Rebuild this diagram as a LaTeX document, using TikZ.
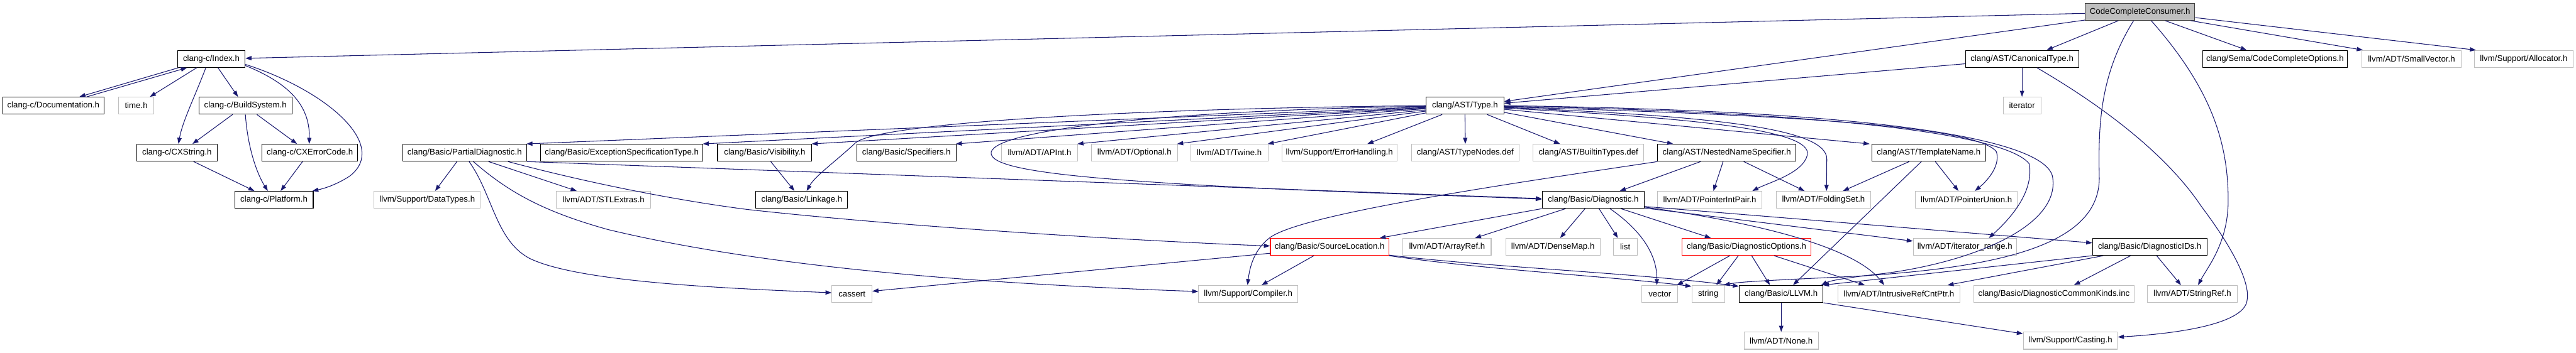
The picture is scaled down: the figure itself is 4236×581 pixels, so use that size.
\documentclass[tikz,border=0pt]{standalone}
\usepackage{fontspec}
\setmainfont{Liberation Sans}
\usetikzlibrary{arrows.meta}
\definecolor{edgec}{HTML}{191970}
\definecolor{extc}{HTML}{BFBFBF}
\definecolor{rootc}{HTML}{BFBFBF}
\newcommand\labfont{\fontsize{13.7pt}{16pt}\selectfont}
\begin{document}
\begin{tikzpicture}[x=1pt,y=-1pt,
  box/.style={rectangle, draw, line width=1.1pt, minimum height=28pt, inner sep=0pt, font=\labfont},
  doc/.style={box, draw=black},
  ext/.style={box, draw=extc},
  trunc/.style={box, draw=red},
  root/.style={box, draw=black!75, fill=rootc},
  e/.style={draw=edgec, line width=1.1pt, -{Triangle[length=10pt,width=7pt]}}]
\useasboundingbox (0,0) rectangle (4236,581);
% row 0
\node[root,minimum width=180pt] (CCC) at (3519,19.5) {CodeCompleteConsumer.h};
% row 1
\node[doc,minimum width=111pt] (Index) at (347.5,97) {clang-c/Index.h};
\node[doc,minimum width=186pt] (Canon) at (3325,97) {clang/AST/CanonicalType.h};
\node[doc,minimum width=238pt] (CCOpts) at (3741,97) {clang/Sema/CodeCompleteOptions.h};
\node[ext,minimum width=163pt] (SmallVec) at (3965.5,97) {llvm/ADT/SmallVector.h};
\node[ext,minimum width=162pt] (Alloc) at (4150,97) {llvm/Support/Allocator.h};
% row 2
\node[doc,minimum width=166.5pt] (Doc) at (87.75,174) {clang-c/Documentation.h};
\node[ext,minimum width=58pt] (time) at (224,174) {time.h};
\node[doc,minimum width=153pt] (Build) at (403.5,174) {clang-c/BuildSystem.h};
\node[doc,minimum width=128pt] (Type) at (2409,174) {clang/AST/Type.h};
\node[ext,minimum width=62pt] (iter) at (3325,174) {iterator};
% row 3
\node[doc,minimum width=132pt] (CXStr) at (291,251.5) {clang-c/CXString.h};
\node[doc,minimum width=157pt] (CXErr) at (509.5,251.5) {clang-c/CXErrorCode.h};
\node[doc,minimum width=204pt] (PDiag) at (764,251.5) {clang/Basic/PartialDiagnostic.h};
\node[doc,minimum width=267pt] (Exc) at (1022.5,251.5) {clang/Basic/ExceptionSpecificationType.h};
\node[doc,minimum width=155pt] (Vis) at (1257.5,251.5) {clang/Basic/Visibility.h};
\node[doc,minimum width=163pt] (Spec) at (1490.5,251.5) {clang/Basic/Specifiers.h};
\node[ext,minimum width=125pt] (APInt) at (1709.5,251.5) {llvm/ADT/APInt.h};
\node[ext,minimum width=141pt] (Opt) at (1865.5,251.5) {llvm/ADT/Optional.h};
\node[ext,minimum width=127pt] (Twine) at (2021.5,251.5) {llvm/ADT/Twine.h};
\node[ext,minimum width=189pt] (ErrH) at (2202.5,251.5) {llvm/Support/ErrorHandling.h};
\node[ext,minimum width=177pt] (TNodes) at (2409.5,251.5) {clang/AST/TypeNodes.def};
\node[ext,minimum width=182pt] (BTypes) at (2612,251.5) {clang/AST/BuiltinTypes.def};
\node[doc,minimum width=227pt] (NNS) at (2839.5,251.5) {clang/AST/NestedNameSpecifier.h};
\node[doc,minimum width=187pt] (TName) at (3171.5,251.5) {clang/AST/TemplateName.h};
% row 4
\node[doc,minimum width=129pt] (Plat) at (450.5,329) {clang-c/Platform.h};
\node[ext,minimum width=175pt] (DTypes) at (702.5,329) {llvm/Support/DataTypes.h};
\node[ext,minimum width=155pt] (STL) at (992.5,329) {llvm/ADT/STLExtras.h};
\node[doc,minimum width=151pt] (Link) at (1318.5,329) {clang/Basic/Linkage.h};
\node[doc,minimum width=168pt] (Diag) at (2620,329) {clang/Basic/Diagnostic.h};
\node[ext,minimum width=171pt] (PIP) at (2811.5,329) {llvm/ADT/PointerIntPair.h};
\node[ext,minimum width=155pt] (Fold) at (2998.5,329) {llvm/ADT/FoldingSet.h};
\node[ext,minimum width=167pt] (PUnion) at (3233.5,329) {llvm/ADT/PointerUnion.h};
% row 5
\node[trunc,minimum width=195pt] (SLoc) at (2186.5,406.5) {clang/Basic/SourceLocation.h};
\node[ext,minimum width=145pt] (ARef) at (2379.5,406.5) {llvm/ADT/ArrayRef.h};
\node[ext,minimum width=155pt] (DMap) at (2553.5,406.5) {llvm/ADT/DenseMap.h};
\node[ext,minimum width=39pt] (list) at (2672.5,406.5) {list};
\node[trunc,minimum width=212pt] (DOpts) at (2872,406.5) {clang/Basic/DiagnosticOptions.h};
\node[ext,minimum width=170pt] (IRange) at (3231,406.5) {llvm/ADT/iterator\_range.h};
\node[doc,minimum width=188pt] (DIDs) at (3535,406.5) {clang/Basic/DiagnosticIDs.h};
% row 6
\node[ext,minimum width=66pt] (cassert) at (1401,484) {cassert};
\node[ext,minimum width=163pt] (Comp) at (2052.5,484) {llvm/Support/Compiler.h};
\node[ext,minimum width=59pt] (vector) at (2729.5,484) {vector};
\node[ext,minimum width=54pt] (string) at (2809,484) {string};
\node[doc,minimum width=138pt] (LLVM) at (2929,484) {clang/Basic/LLVM.h};
\node[ext,minimum width=201pt] (IRC) at (3122.5,484) {llvm/ADT/IntrusiveRefCntPtr.h};
\node[ext,minimum width=263pt] (DCK) at (3377.5,484) {clang/Basic/DiagnosticCommonKinds.inc};
\node[ext,minimum width=148pt] (SRef) at (3605,484) {llvm/ADT/StringRef.h};
% row 7
\node[ext,minimum width=122pt] (None) at (2929,561) {llvm/ADT/None.h};
\node[ext,minimum width=155pt] (Cast) at (3404.5,561) {llvm/Support/Casting.h};

% ---- edges from root
\draw[e] ([yshift=-2.5pt]CCC.west) -- ([yshift=1pt]Index.east);
\draw[e] ([yshift=1pt]CCC.south west) -- ([yshift=7pt]Type.east);
\draw[e] ([yshift=-8pt]Canon.west) -- ([yshift=4pt]Type.east);
\draw[e] ([xshift=55pt]CCC.south west) -- ([xshift=134pt]Canon.north west);
\draw[e] ([xshift=132pt]CCC.south west) -- ([xshift=73pt]CCOpts.north west);
\draw[e] ([xshift=174pt]CCC.south west) -- ([xshift=2pt]SmallVec.north west);
\draw[e] ([yshift=-9.5pt]CCC.east) -- ([xshift=3pt]Alloc.north west);
\draw[e] ([xshift=109pt]CCC.south west) .. controls (3640,150) and (3664,240) .. (3664,330) .. controls (3664,400) and (3630,440) .. ([xshift=84pt]SRef.north west);
\draw[e] ([xshift=80pt]CCC.south west) .. controls (3455,120) and (3450,200) .. (3452,290) .. controls (3455,400) and (3300,440) .. (3050,455) .. controls (2900,462) and (2860,464) .. ([xshift=-2pt]string.north east);
\draw[e] ([xshift=118pt]Canon.south west) .. controls (3450,170) and (3560,250) .. (3620,340) .. controls (3680,420) and (3700,470) .. (3695,495) .. controls (3690,530) and (3600,548) .. ([yshift=6pt]Cast.east);
\draw[e] (Canon.south) -- (iter.north);

% ---- Index
\draw[e] ([xshift=2pt]Index.south west) -- ([xshift=126.5pt]Doc.north west);
\draw[e] ([xshift=138.5pt]Doc.north west) -- ([xshift=16pt]Index.south west);
\draw[e] ([xshift=32pt]Index.south west) -- ([xshift=52pt]time.north west);
\draw[e] ([xshift=47pt]Index.south west) .. controls (320,160) and (300,200) .. ([xshift=69pt]CXStr.north west);
\draw[e] ([xshift=67pt]Index.south west) -- ([xshift=65pt]Build.north west);
\draw[e] ([yshift=-11pt]Index.east) .. controls (470,135) and (510,170) .. ([xshift=78pt]CXErr.north west);
\draw[e] ([yshift=-9pt]Index.east) .. controls (540,150) and (640,240) .. (575,290) .. controls (555,303) and (535,310) .. ([xshift=-2pt]Plat.north east);
\draw[e] ([xshift=56pt]Build.south west) -- ([xshift=92pt]CXStr.north west);
\draw[e] ([xshift=96pt]Build.south west) -- ([xshift=58pt]CXErr.north west);
\draw[e] ([xshift=77pt]Build.south west) .. controls (408,250) and (425,290) .. ([xshift=55pt]Plat.north west);
\draw[e] ([xshift=94pt]CXStr.south west) -- ([xshift=33pt]Plat.north west);
\draw[e] ([xshift=67pt]CXErr.south west) -- ([xshift=76pt]Plat.north west);

% ---- Type, left side
\draw[e] ([yshift=-2pt]Type.west) -- ([xshift=-1pt]PDiag.north east);
\draw[e] ([yshift=-3pt]Type.west) -- ([xshift=-1pt]Exc.north east);
\draw[e] ([yshift=-4pt]Type.west) -- ([xshift=-1pt]Vis.north east);
\draw[e] ([yshift=-5pt]Type.west) -- ([xshift=-1pt]Spec.north east);
\draw[e] ([yshift=-7pt]Type.west) -- ([xshift=-1pt]APInt.north east);
\draw[e] ([yshift=-9pt]Type.west) -- ([xshift=-1pt]Opt.north east);
\draw[e] ([yshift=-12pt]Type.west) -- ([xshift=-1pt]Twine.north east);
\draw[e] ([yshift=0pt]Type.west) .. controls (1900,178) and (1450,200) .. (1407,235) .. controls (1375,265) and (1340,290) .. ([xshift=84pt]Link.north west);
\draw[e] ([yshift=-1pt]Type.west) .. controls (1900,182) and (1640,215) .. (1630,250) .. controls (1625,272) and (1700,287) .. (1898,300) .. controls (2100,314) and (2400,322) .. ([yshift=1pt]Diag.west);
\draw[e] ([xshift=88pt]Vis.south west) -- ([xshift=64pt]Link.north west);
% ---- Type, below and right
\draw[e] ([xshift=27pt]Type.south west) -- ([xshift=141pt]ErrH.north west);
\draw[e] (Type.south) -- (TNodes.north);
\draw[e] ([xshift=101pt]Type.south west) -- ([xshift=45pt]BTypes.north west);
\draw[e] ([yshift=-11pt]Type.east) -- ([xshift=26pt]NNS.north west);
\draw[e] ([yshift=-6pt]Type.east) -- ([xshift=-3pt]TName.north west);
\draw[e] ([yshift=-4pt]Type.east) .. controls (2800,195) and (2980,215) .. (2972,255) .. controls (2965,285) and (2910,300) .. ([xshift=156pt]PIP.north west);
\draw[e] ([yshift=-3pt]Type.east) .. controls (2850,192) and (3004,215) .. (3004,262) -- ([xshift=83pt]Fold.north west);
\draw[e] ([yshift=-2pt]Type.east) .. controls (2900,188) and (3250,205) .. (3283,250) .. controls (3290,275) and (3265,300) .. ([xshift=98pt]PUnion.north west);
\draw[e] ([yshift=-1pt]Type.east) .. controls (3000,184) and (3300,220) .. (3337,270) .. controls (3345,320) and (3300,365) .. ([xshift=125pt]IRange.north west);
\draw[e] ([yshift=0pt]Type.east) .. controls (3100,182) and (3360,230) .. (3375,290) .. controls (3390,370) and (3250,430) .. (3100,450) .. controls (3030,458) and (3010,462) .. ([xshift=-4pt]LLVM.north east);
% ---- TemplateName
\draw[e] ([xshift=62pt]TName.south west) -- ([xshift=110pt]Fold.north west);
\draw[e] ([xshift=82pt]TName.south west) -- ([xshift=89pt]LLVM.north west);
\draw[e] ([xshift=105pt]TName.south west) -- ([xshift=71pt]PUnion.north west);
% ---- PartialDiagnostic
\draw[e] ([xshift=90pt]PDiag.south west) -- ([xshift=101pt]DTypes.north west);
\draw[e] ([xshift=110pt]PDiag.south west) .. controls (810,320) and (815,395) .. (870,425) .. controls (950,465) and (1200,475) .. ([yshift=2pt]cassert.west);
\draw[e] ([xshift=117pt]PDiag.south west) .. controls (840,320) and (900,350) .. (1000,378) .. controls (1300,450) and (1700,470) .. ([yshift=4pt]Comp.west);
\draw[e] ([xshift=142pt]PDiag.south west) -- ([xshift=34pt]STL.north west);
\draw[e] ([xshift=174pt]PDiag.south west) .. controls (1000,310) and (1150,335) .. (1230,345) .. controls (1500,375) and (1900,398) .. ([yshift=1.5pt]SLoc.west);
\draw[e] (PDiag.south east) -- ([yshift=2pt]Diag.west);
% ---- NestedNameSpecifier
\draw[e] (NNS.south west) .. controls (2500,300) and (2150,350) .. (2090,390) .. controls (2062,410) and (2055,440) .. ([xshift=81pt]Comp.north west);
\draw[e] ([xshift=71pt]NNS.south west) -- ([xshift=128pt]Diag.north west);
\draw[e] ([xshift=108pt]NNS.south west) -- ([xshift=92pt]PIP.north west);
\draw[e] ([xshift=142pt]NNS.south west) -- ([xshift=47pt]Fold.north west);
% ---- Diagnostic
\draw[e] (Diag.south west) -- ([xshift=-16pt]SLoc.north east);
\draw[e] ([xshift=39pt]Diag.south west) -- ([xshift=119pt]ARef.north west);
\draw[e] ([xshift=71pt]Diag.south west) -- ([xshift=90pt]DMap.north west);
\draw[e] ([xshift=94pt]Diag.south west) -- ([xshift=8pt]list.north west);
\draw[e] ([xshift=112pt]Diag.south west) .. controls (2700,380) and (2725,420) .. ([xshift=25pt]vector.north west);
\draw[e] ([xshift=130pt]Diag.south west) -- ([xshift=48pt]DOpts.north west);
\draw[e] ([yshift=1pt]Diag.south east) -- ([yshift=-5pt]IRange.north west);
\draw[e] ([yshift=-11pt]Diag.east) -- ([yshift=-8pt]DIDs.north west);
\draw[e] ([yshift=-12pt]Diag.east) .. controls (2950,375) and (3060,420) .. ([xshift=77pt]IRC.north west);
% ---- SourceLocation
\draw[e] ([yshift=-10.5pt]SLoc.west) -- ([yshift=-10pt]cassert.north east);
\draw[e] ([xshift=72pt]SLoc.south west) -- ([xshift=104pt]Comp.north west);
\draw[e] (SLoc.south east) .. controls (2450,445) and (2650,455) .. ([yshift=-2pt]string.north west);
\draw[e] ([yshift=1pt]SLoc.south east) .. controls (2450,440) and (2700,450) .. ([yshift=-2pt]LLVM.north west);
% ---- DiagnosticOptions
\draw[e] ([xshift=79pt]DOpts.south west) -- ([xshift=-2pt]vector.north east);
\draw[e] ([xshift=93pt]DOpts.south west) -- ([xshift=41pt]string.north west);
\draw[e] ([xshift=115pt]DOpts.south west) -- ([xshift=51pt]LLVM.north west);
\draw[e] ([xshift=152pt]DOpts.south west) -- ([xshift=45pt]IRC.north west);
% ---- DiagnosticIDs
\draw[e] (DIDs.south west) -- ([xshift=-1pt]LLVM.north east);
\draw[e] ([xshift=18pt]DIDs.south west) -- ([xshift=181pt]IRC.north west);
\draw[e] ([xshift=63pt]DIDs.south west) -- ([xshift=165pt]DCK.north west);
\draw[e] ([xshift=106pt]DIDs.south west) -- ([xshift=56pt]SRef.north west);
% ---- LLVM
\draw[e] (LLVM.south) -- (None.north);
\draw[e] (LLVM.south east) -- ([yshift=-3pt]Cast.north west);
\end{tikzpicture}
\end{document}
